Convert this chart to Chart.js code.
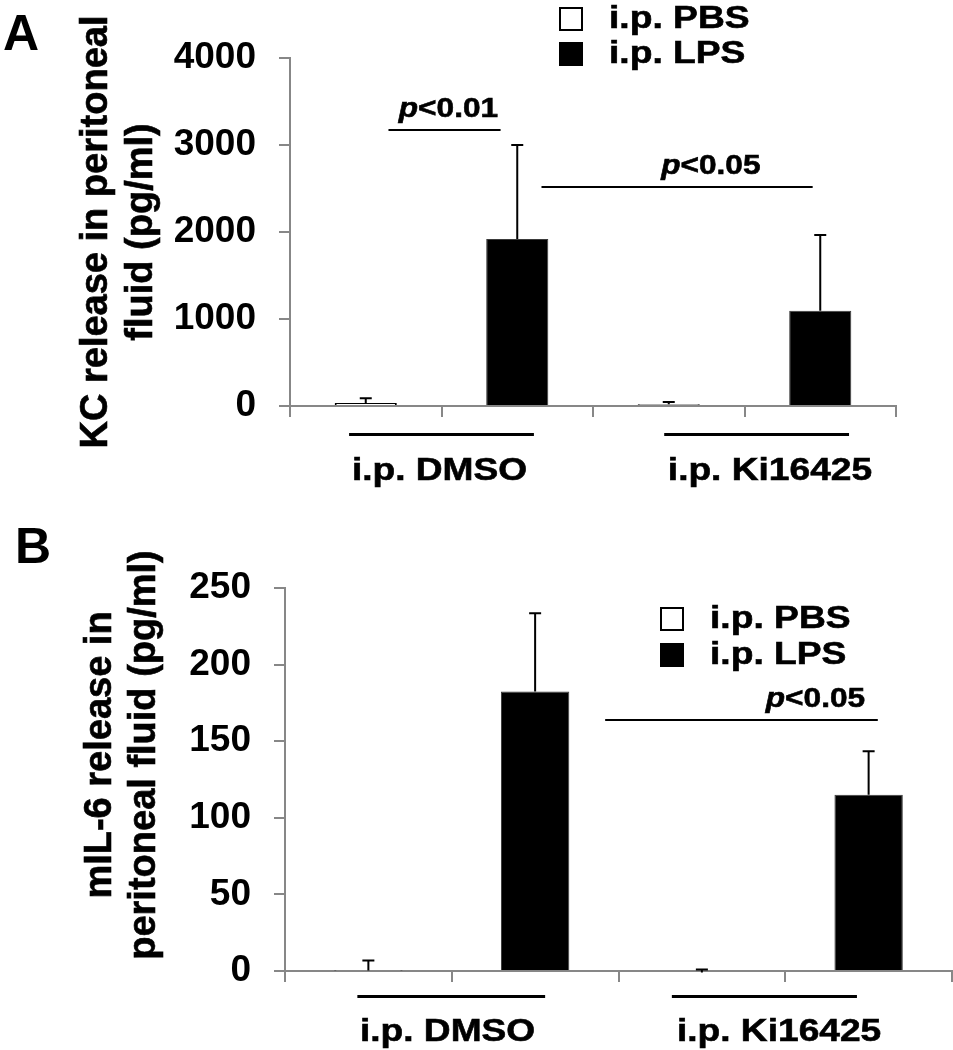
<!DOCTYPE html>
<html>
<head>
<meta charset="utf-8">
<script src="https://cdn.jsdelivr.net/npm/chart.js@4.4.1/dist/chart.umd.min.js"></script>
<style>
html,body{margin:0;padding:0;background:#fff;}
#wrap{position:relative;width:953px;height:1050px;overflow:hidden;}
.box{position:absolute;left:0;width:953px;}
</style>
</head>
<body>
<div id="wrap">
  <div class="box" style="top:0;height:500px"><canvas id="chartA"></canvas></div>
  <div class="box" style="top:500px;height:550px"><canvas id="chartB"></canvas></div>
</div>
<script>
// ---------------- data ----------------
const categories = ['DMSO / PBS', 'DMSO / LPS', 'Ki16425 / PBS', 'Ki16425 / LPS'];
const seriesLabels = ['i.p. PBS', 'i.p. LPS'];
const groupLabels = ['i.p. DMSO', 'i.p. Ki16425'];

// Panel A: KC (pg/ml)
const kcPBS   = [35, null, 20, null];
const kcPBSsd = [53, null, 26, null];
const kcLPS   = [null, 1920, null, 1095];
const kcLPSsd = [null, 1080, null, 870];
const kcTicks = [0, 1000, 2000, 3000, 4000];
const kcStats = [
  {from: 0.15, to: 0.89, at: 3170, text: 'p<0.01'},
  {from: 1.16, to: 2.95, at: 2515, text: 'p<0.05'}
];

// Panel B: mIL-6 (pg/ml)
const il6PBS   = [0.3, null, -1, null];
const il6PBSsd = [6.5, null, 2, null];
const il6LPS   = [null, 182.5, null, 115];
const il6LPSsd = [null, 51, null, 28.5];
const il6Ticks = [0, 50, 100, 150, 200, 250];
const il6Stats = [
  {from: 1.42, to: 3.055, at: 163.6, text: 'p<0.05'}
];

// ---------------- styling / helpers ----------------
const FONT = "'Liberation Sans', Arial, Helvetica, sans-serif";
const AXIS = '#878787';

function stretchText(ctx, parts, x, y, size, sx, align) {
  ctx.save();
  const fonts = parts.map(p => (p.italic ? 'italic ' : '') + 'bold ' + size + 'px ' + FONT);
  const widths = parts.map((p, i) => { ctx.font = fonts[i]; return ctx.measureText(p.t).width; });
  const total = widths.reduce((a, b) => a + b, 0) * sx;
  const start = align === 'center' ? x - total / 2 : (align === 'right' ? x - total : x);
  ctx.translate(start, y);
  ctx.scale(sx, 1);
  ctx.textAlign = 'left';
  ctx.textBaseline = 'alphabetic';
  ctx.fillStyle = '#000';
  ctx.strokeStyle = '#000';
  ctx.lineWidth = 0.6;
  let cx = 0;
  parts.forEach((p, i) => {
    ctx.font = fonts[i];
    ctx.fillText(p.t, cx, 0);
    ctx.strokeText(p.t, cx, 0);
    cx += widths[i];
  });
  ctx.restore();
}
function pParts(text) { return [{t: text[0], italic: true}, {t: text.slice(1)}]; }

const errorBars = {
  id: 'errorBars',
  afterDatasetsDraw(chart) {
    const ctx = chart.ctx, ys = chart.scales.y;
    chart.data.datasets.forEach((ds, di) => {
      const meta = chart.getDatasetMeta(di);
      ds.sd.forEach((s, i) => {
        if (s == null || ds.data[i] == null) return;
        const x = meta.data[i].x;
        const y0 = ys.getPixelForValue(ds.data[i]);
        const y1 = ys.getPixelForValue(ds.data[i] + s);
        ctx.save();
        ctx.strokeStyle = '#000';
        ctx.lineWidth = 2;
        ctx.beginPath();
        ctx.moveTo(x, y0); ctx.lineTo(x, y1);
        ctx.moveTo(x - 6, y1); ctx.lineTo(x + 6, y1);
        ctx.stroke();
        ctx.restore();
      });
    });
  }
};

const deco = {
  id: 'deco',
  afterDraw(chart, args, o) {
    const ctx = chart.ctx, xs = chart.scales.x, ys = chart.scales.y;
    const axisY = ys.getPixelForValue(0);
    // panel letter
    ctx.save();
    ctx.fillStyle = '#000';
    ctx.font = 'bold 50px ' + FONT;
    ctx.textBaseline = 'alphabetic';
    ctx.textAlign = 'left';
    ctx.fillText(o.letter, o.letterX, o.letterY);
    ctx.restore();
    // y-axis title
    ctx.save();
    ctx.fillStyle = '#000';
    ctx.strokeStyle = '#000';
    ctx.lineWidth = 0.6;
    ctx.font = 'bold 38px ' + FONT;
    ctx.textAlign = 'center';
    ctx.textBaseline = 'alphabetic';
    o.title.forEach((t, k) => {
      ctx.save();
      ctx.translate(o.titleX[k], o.titleY);
      ctx.rotate(-Math.PI / 2);
      ctx.fillText(t, 0, 0);
      ctx.strokeText(t, 0, 0);
      ctx.restore();
    });
    ctx.restore();
    // legend
    chart.data.datasets.forEach((ds, k) => {
      const by = o.legendY[k];
      ctx.save();
      ctx.fillStyle = ds.backgroundColor;
      ctx.fillRect(o.legendX, by - 21, 24, 24);
      ctx.strokeStyle = '#000';
      ctx.lineWidth = 2;
      ctx.strokeRect(o.legendX + 1, by - 20, 22, 22);
      ctx.restore();
      stretchText(ctx, [{t: ds.label}], o.legendX + 50, by, 31, 1.2, 'left');
    });
    // group underlines + labels
    ctx.save();
    ctx.strokeStyle = '#000';
    ctx.lineWidth = 3;
    o.groupLines.forEach(([a, b]) => {
      const yy = Math.round(axisY + o.groupDy) + 0.5;
      ctx.beginPath();
      ctx.moveTo(xs.getPixelForValue(a), yy);
      ctx.lineTo(xs.getPixelForValue(b), yy);
      ctx.stroke();
    });
    ctx.restore();
    groupLabels.forEach((g, k) => {
      stretchText(ctx, [{t: g}], xs.getPixelForValue(o.groupAt[k]), axisY + o.groupTextDy, 32, 1.16, 'center');
    });
    // significance bars
    o.stats.forEach((s, k) => {
      const y = Math.round(ys.getPixelForValue(s.at));
      ctx.save();
      ctx.strokeStyle = '#000';
      ctx.lineWidth = 2;
      ctx.beginPath();
      ctx.moveTo(xs.getPixelForValue(s.from), y);
      ctx.lineTo(xs.getPixelForValue(s.to), y);
      ctx.stroke();
      ctx.restore();
      const tp = o.statText[k];
      stretchText(ctx, pParts(s.text), xs.getPixelForValue(tp.at), y - 13, 28, 1.13, tp.align);
    });
  }
};

function makeChart(id, p) {
  return new Chart(document.getElementById(id), {
    type: 'bar',
    data: {
      labels: categories,
      datasets: [
        {label: seriesLabels[0], data: p.pbs, sd: p.pbsSd, backgroundColor: '#ffffff',
         borderColor: '#000000', borderWidth: 2, grouped: false,
         barPercentage: 0.41, categoryPercentage: 1},
        {label: seriesLabels[1], data: p.lps, sd: p.lpsSd, backgroundColor: '#000000',
         borderColor: '#3a3a3a', borderWidth: 1, grouped: false,
         barPercentage: 0.41, categoryPercentage: 1}
      ]
    },
    options: {
      responsive: true,
      maintainAspectRatio: false,
      animation: false,
      devicePixelRatio: 1,
      layout: {padding: {top: p.L.top, right: p.L.right, left: 0, bottom: 0}},
      plugins: {
        legend: {display: false},
        tooltip: {enabled: false},
        title: {display: false},
        deco: p.deco
      },
      scales: {
        x: {
          offset: true,
          grid: {display: true, drawOnChartArea: false, drawTicks: true, tickLength: 11,
                 color: AXIS, lineWidth: 2, offset: true},
          border: {display: true, color: AXIS, width: 2},
          ticks: {display: false},
          afterFit: s => { s.height = p.L.xh; }
        },
        y: {
          min: p.ticks[0],
          max: p.ticks[p.ticks.length - 1],
          afterBuildTicks: s => { s.ticks = p.ticks.map(v => ({value: v})); },
          grid: {display: true, drawOnChartArea: false, drawTicks: true, tickLength: 11,
                 color: AXIS, lineWidth: 2},
          border: {display: true, color: AXIS, width: 2},
          ticks: {color: '#000', padding: 23, font: {family: FONT, size: 37, weight: 'bold'},
                  callback: v => String(v)},
          afterFit: s => { s.width = p.L.left; }
        }
      }
    },
    plugins: [errorBars, deco]
  });
}

makeChart('chartA', {
  pbs: kcPBS, pbsSd: kcPBSsd, lps: kcLPS, lpsSd: kcLPSsd, ticks: kcTicks,
  L: {left: 290, right: 57, top: 58, xh: 94},
  deco: {
    letter: 'A', letterX: 3, letterY: 50,
    title: ['KC release in peritoneal', 'fluid (pg/ml)'], titleX: [107, 152], titleY: 232,
    legendX: 559, legendY: [28, 63],
    groupLines: [[-0.11, 1.11], [1.97, 3.19]], groupDy: 28,
    groupAt: [0.487, 2.668], groupTextDy: 74,
    stats: kcStats,
    statText: [{at: 0.546, align: 'center'}, {at: 2.606, align: 'right'}]
  }
});

makeChart('chartB', {
  pbs: il6PBS, pbsSd: il6PBSsd, lps: il6LPS, lpsSd: il6LPSsd, ticks: il6Ticks,
  L: {left: 285, right: 1, top: 88, xh: 79},
  deco: {
    letter: 'B', letterX: 15, letterY: 63,
    title: ['mIL-6 release in', 'peritoneal fluid (pg/ml)'], titleX: [111, 155], titleY: 255,
    legendX: 660, legendY: [128, 164],
    groupLines: [[-0.066, 1.06], [1.82, 2.93]], groupDy: 25,
    groupAt: [0.475, 2.463], groupTextDy: 70,
    stats: il6Stats,
    statText: [{at: 2.979, align: 'right'}]
  }
});
</script>
</body>
</html>
